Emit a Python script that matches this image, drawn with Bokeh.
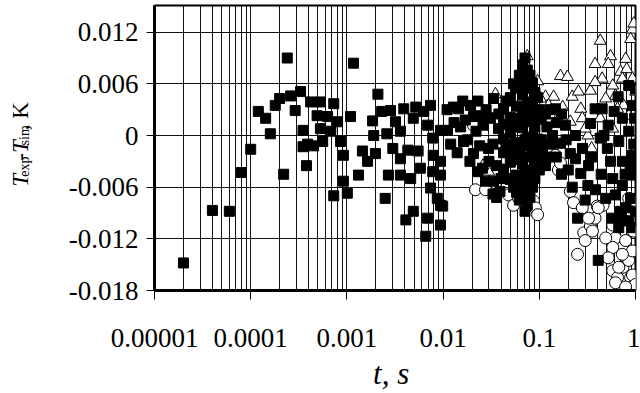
from math import pi
from bokeh.plotting import figure
from bokeh.layouts import row
from bokeh.models import FixedTicker, Range1d
from bokeh.embed import file_html
from bokeh.resources import INLINE

# ---------------- data ----------------
sq_t = [2.0e-5, 4.0e-5, 6.0e-5, 8.0e-5, 1.0e-4, 1.2e-4, 1.43e-4, 1.6e-4, 1.8e-4, 2.0e-4,
        2.2e-4, 2.4e-4, 2.6e-4, 2.9e-4, 3.3e-4, 3.5e-4, 3.5e-4, 3.8e-4, 4.2e-4, 4.5e-4,
        5.3e-4, 7.3e-4, 4.9e-4, 6.3e-4, 8.0e-4, 1.09e-3, 5.3e-4, 6.8e-4, 3.9e-4, 5.6e-4,
        8.6e-4, 9.2e-4, 9.2e-4, 1.01e-3, 7.3e-4, 1.32e-3, 2.1e-3, 2.3e-3, 1.85e-3, 3.2e-3,
        1.9e-3, 2.6e-3, 3.6e-3, 1.45e-3, 1.98e-3, 1.64e-3, 3.0e-3, 4.3e-3, 3.6e-3, 2.7e-3,
        3.6e-3, 4.6e-3, 2.5e-3, 3.9e-3, 5.2e-3, 6.3e-3, 4.9e-3, 6.9e-3, 9.4e-3, 7.8e-3,
        5.5e-3, 7.9e-3, 9.4e-3, 5.8e-3, 7.8e-3, 9.4e-3, 7.4e-3, 8.7e-3, 9.4e-3, 4.9e-3,
        4.1e-3, 6.9e-3, 9.4e-3, 6.6e-3, 1.28e-2, 1.93e-2, 2.07e-2, 1.52e-2, 1.63e-2, 2.07e-2,
        2.28e-2, 1.11e-2, 1.17e-3, 9.9e-3, 1.45e-2, 2.45e-2, 2.57e-2, 2.76e-2, 3.34e-2, 3.34e-2,
        2.97e-2, 3.77e-2, 7.4e-3, 2.84e-3,
        0.011, 0.012, 0.013, 0.014, 0.016, 0.017, 0.018, 0.019, 0.022, 0.023,
        0.024, 0.026, 0.028, 0.030, 0.031, 0.033, 0.036, 0.038, 0.040, 0.039,
        0.036, 0.033,
        0.0425, 0.0425, 0.0425, 0.0425, 0.0425,
        0.045, 0.045, 0.045,
        0.050, 0.050, 0.050, 0.050, 0.050, 0.050,
        0.054, 0.054, 0.054, 0.054,
        0.058, 0.058, 0.058, 0.058, 0.058, 0.058, 0.058,
        0.062, 0.062, 0.062, 0.062, 0.062,
        0.067, 0.067, 0.067, 0.067, 0.067, 0.067, 0.067, 0.067, 0.067,
        0.071, 0.071, 0.071, 0.071, 0.071, 0.071, 0.071,
        0.075, 0.075, 0.075, 0.075, 0.075, 0.075, 0.075, 0.075, 0.075,
        0.080, 0.080, 0.080, 0.080, 0.080,
        0.085, 0.085, 0.085, 0.085, 0.085, 0.085, 0.085,
        0.090, 0.090, 0.090, 0.090,
        0.096, 0.096, 0.096, 0.096,
        0.10, 0.10, 0.10,
        0.105, 0.105, 0.12, 0.12, 0.13, 0.13, 0.15, 0.15, 0.17, 0.17, 0.19, 0.20,
        0.116, 0.147, 0.187, 0.137, 0.108, 0.116, 0.166, 0.238, 0.281, 0.238,
        0.325, 0.32, 0.384, 0.25, 0.41, 0.577, 0.73, 0.85, 0.62, 0.73,
        0.93, 0.73, 0.93, 0.67, 0.85, 0.73, 0.93, 0.52, 0.51, 0.85,
        1.0, 0.45, 0.38, 0.34, 0.43, 0.58, 0.89, 1.0, 0.79, 0.67,
        0.93, 0.49, 0.27, 0.21, 0.60, 0.96, 0.78, 0.55, 0.66, 0.98,
        0.88, 0.70, 0.22, 0.30, 0.35, 0.44, 0.47]
sq_T = [-0.0148, -0.0087, -0.0088, -0.0043, -0.0016, 0.0028, 0.0020, 0.0002, 0.0035, 0.0043,
        -0.0045, 0.0090, 0.0046, 0.0029, 0.0051, 0.0006, -0.0013, -0.0035, 0.0039, -0.0012,
        0.0039, 0.0037, 0.0023, 0.0022, 0.0016, 0.0022, 0.0008, 0.0005, -0.0010, -0.0007,
        -0.0007, -0.0023, -0.0053, -0.0067, -0.0070, -0.0046, 0.0048, 0.0028, 0.0017, 0.0016,
        0.0000, 0.0002, 0.0005, -0.0018, -0.0021, -0.0030, -0.0015, -0.0017, -0.0027, -0.0046,
        -0.0046, -0.0050, -0.0073, 0.0031, 0.0033, 0.0028, 0.0020, 0.0012, 0.0006, -0.0003,
        -0.0018, -0.0023, -0.0030, -0.0038, -0.0042, -0.0046, -0.0061, -0.0073, -0.0081, -0.0088,
        -0.0098, -0.0096, -0.0104, -0.0117, 0.0033, 0.0035, 0.0022, 0.0010, -0.0007, -0.0021,
        -0.0042, 0.0006, 0.0084, -0.0082, 0.0031, 0.0023, -0.0038, -0.0053, -0.0053, 0.0043,
        -0.0015, 0.0008, 0.0035, 0.0029,
        0.0030, -0.0010, 0.0015, -0.0020, 0.0040, 0.0018, -0.0005, -0.0030, 0.0005, 0.0040,
        -0.0012, 0.0012, 0.0030, -0.0030, 0.0020, -0.0010, -0.0035, 0.0025, -0.0050, -0.0065,
        -0.0072, -0.0068,
        0.0031, 0.0013, -0.0004, -0.0020, -0.0039,
        0.0040, -0.0010, -0.0050,
        0.0044, 0.0021, 0.0003, -0.0016, -0.0031, -0.0051,
        0.0060, 0.0010, -0.0022, -0.0060,
        0.0055, 0.0034, 0.0013, -0.0008, -0.0028, -0.0046, -0.0066,
        0.0070, 0.0020, -0.0018, -0.0055, -0.0075,
        0.0082, 0.0066, 0.0047, 0.0030, 0.0009, -0.0012, -0.0033, -0.0051, -0.0069,
        0.0090, 0.0055, 0.0022, -0.0005, -0.0040, -0.0075, -0.0088,
        0.0076, 0.0058, 0.0038, 0.0016, -0.0002, -0.0025, -0.0043, -0.0062, -0.0081,
        0.0070, 0.0028, -0.0012, -0.0052, -0.0072,
        0.0061, 0.0039, 0.0021, -0.0002, -0.0020, -0.0041, -0.0060,
        0.0050, 0.0010, -0.0030, -0.0050,
        0.0044, 0.0019, -0.0004, -0.0026,
        0.0030, -0.0010, -0.0040,
        0.0020, -0.0005, 0.0010, -0.0025, 0.0030, -0.0010, 0.0015, -0.0025, 0.0025, -0.0045, -0.0005, -0.0040,
        0.0025, 0.0031, 0.0012, 0.0000, -0.0015, -0.0035, -0.0009, 0.0000, -0.0015, -0.0027,
        -0.0035, -0.0058, -0.0063, -0.0096, -0.0145, -0.0096, -0.0099, -0.0099, -0.0069, -0.0058,
        -0.0046, -0.0030, -0.0023, -0.0007, 0.0005, 0.0020, 0.0035, 0.0012, -0.0015, 0.0058,
        0.0054, 0.0031, 0.0031, 0.0014, -0.0003, -0.0050, -0.0073, -0.0088, -0.0084, -0.0107,
        -0.0107, -0.0073, -0.0044, -0.0021, 0.0028, -0.0010, -0.0045, -0.0030, 0.0045, 0.0020,
        -0.0035, -0.0088, -0.0060, -0.0075, -0.0025, -0.0045, 0.0000]

tri_t = [0.035, 0.0446, 0.050, 0.0566, 0.075, 0.096, 0.166, 0.196, 0.116, 0.141,
         0.125, 0.155, 0.22, 0.255, 0.27, 0.28, 0.21, 0.34, 0.43, 0.38,
         0.55, 0.52, 0.79, 0.70, 0.81, 0.45, 0.38, 0.58, 0.73, 0.93,
         0.93, 0.89, 1.0, 0.62, 0.75, 0.85, 0.0297, 0.026, 0.35, 0.32,
         0.49, 0.65, 0.96, 0.103, 0.43, 0.58, 0.30, 0.175]
tri_T = [0.0048, 0.0031, 0.0029, 0.0029, 0.0092, 0.0063, 0.0069, 0.0068, 0.0045, 0.0045,
         0.0035, 0.0020, 0.0045, 0.0051, 0.0031, 0.0020, 0.0016, 0.0052, 0.0110, 0.0083,
         0.0092, 0.0083, 0.0089, 0.0074, 0.0077, 0.0066, 0.0062, 0.0058, 0.0066, 0.0066,
         0.0123, 0.0112, 0.0051, 0.0046, 0.0035, 0.0023, -0.0042, -0.0035, -0.0015, 0.0000,
         0.0043, 0.0031, 0.0130, 0.0043, 0.0020, 0.0008, 0.0008, 0.0033]

cir_t = [0.0207, 0.0217, 0.0276, 0.034, 0.048, 0.054, 0.061, 0.087, 0.091, 0.096,
         0.125, 0.137, 0.158, 0.147, 0.21, 0.227, 0.25, 0.29, 0.34, 0.38,
         0.40, 0.46, 0.30, 0.58, 0.65, 0.74, 0.89, 0.95, 0.28, 0.325,
         0.357, 0.41, 0.58, 0.62, 0.73, 0.85, 0.67, 0.93, 1.0, 0.79,
         0.93, 0.58, 0.73, 0.95, 1.0, 0.49, 0.52, 0.62, 0.79, 0.166,
         0.035, 0.85, 0.70]
cir_T = [0.0012, -0.0063, -0.0063, 0.0033, -0.0069, -0.0081, -0.0073, -0.0076, -0.0084, -0.0092,
         -0.0024, -0.0018, -0.0040, -0.0023, -0.0065, -0.0078, -0.0138, -0.0113, -0.0105, -0.0096,
         -0.0082, -0.0081, -0.0122, -0.0157, -0.0165, -0.0153, -0.0165, -0.0174, -0.0084, -0.0096,
         -0.0111, -0.0084, -0.0104, -0.0119, -0.0130, -0.0145, -0.0153, -0.0162, -0.0173, -0.0122,
         -0.0134, -0.0130, -0.0138, -0.0111, -0.0076, -0.0119, -0.0142, -0.0171, -0.0176, -0.0032,
         -0.0055, -0.0073, -0.0090]

x_ticks = [1e-5, 1e-4, 1e-3, 1e-2, 1e-1, 1.0]
x_tick_labels = ["0.00001", "0.0001", "0.001", "0.01", "0.1", "1"]
y_ticks = [-0.018, -0.012, -0.006, 0.0, 0.006, 0.012]
y_tick_labels = ["-0.018", "-0.012", "-0.006", "0", "0.006", "0.012"]

# y-axis title pieces: T_exp - T_sim, K
ylab_main = ["T", "-T", ", K"]
ylab_main_style = ["italic", "italic", "normal"]
ylab_sub = ["exp", "sim"]

# ---------------- layout constants ----------------
SERIF = "Liberation Serif"
W, H = 640, 393
LW = 40                      # narrow strip holding the rotated y title
BL, BR, BT, BB = 154 - LW, 5, 5, 103

# ---------------- left strip with the rotated y title ----------------
lp = figure(width=LW, height=H, x_range=Range1d(0, LW), y_range=Range1d(H, 0),
            output_backend="svg", toolbar_location=None,
            min_border_left=0, min_border_right=0, min_border_top=0, min_border_bottom=0)
lp.axis.visible = False
lp.grid.visible = False
lp.outline_line_color = None
lp.background_fill_color = "white"
lp.border_fill_color = "white"

main_pos = [(20, 250), (20, 214), (20, 172)]   # baseline x, start y (pixels)
sub_pos = [(24, 236), (24, 193)]
for txt, st, (bx, by) in zip(ylab_main, ylab_main_style, main_pos):
    lp.text(x=[bx], y=[by], text=[txt], angle=pi / 2, text_font=SERIF,
            text_font_size="23px", text_font_style=st, text_color="black",
            text_align="left", text_baseline="alphabetic")
for txt, (bx, by) in zip(ylab_sub, sub_pos):
    lp.text(x=[bx], y=[by], text=[txt], angle=pi / 2, text_font=SERIF,
            text_font_size="14px", text_font_style="normal", text_color="black",
            text_align="left", text_baseline="alphabetic")

# ---------------- main plot ----------------
p = figure(width=W - LW, height=H, x_axis_type="log",
           x_range=Range1d(1e-5, 1.0), y_range=Range1d(-0.018, 0.0151),
           output_backend="svg", toolbar_location=None,
           min_border_left=BL, min_border_right=BR, min_border_top=BT, min_border_bottom=BB)
p.background_fill_color = "white"
p.border_fill_color = "white"
p.outline_line_color = "black"
p.outline_line_width = 2

minor = [k * d for d in x_ticks[:-1] for k in range(2, 10)]
xt = FixedTicker(ticks=x_ticks, minor_ticks=minor)
yt = FixedTicker(ticks=y_ticks, minor_ticks=[])
p.xaxis.ticker = xt
p.yaxis.ticker = yt
p.xgrid.ticker = xt
p.ygrid.ticker = yt

p.xaxis.major_label_overrides = dict(zip(x_ticks, x_tick_labels))
p.yaxis.major_label_overrides = dict(zip(y_ticks, y_tick_labels))

p.xgrid.grid_line_color = "#111111"
p.xgrid.grid_line_width = 1
p.xgrid.minor_grid_line_color = "#111111"
p.xgrid.minor_grid_line_width = 1
p.ygrid.grid_line_color = "#111111"
p.ygrid.grid_line_width = 1

for ax in (p.xaxis, p.yaxis):
    ax.axis_line_color = "black"
    ax.axis_line_width = 3
    ax.major_tick_line_color = "black"
    ax.major_tick_line_width = 1
    ax.major_tick_in = 0
    ax.minor_tick_line_color = None
    ax.major_label_text_font = SERIF
    ax.major_label_text_font_size = "27px"
    ax.major_label_text_color = "black"

p.xaxis.major_tick_out = 9
p.yaxis.major_tick_out = 8
p.xaxis.major_label_standoff = 29
p.yaxis.major_label_standoff = 8

p.xaxis.axis_label = "t,  s"
p.xaxis.axis_label_text_font = SERIF
p.xaxis.axis_label_text_font_style = "italic"
p.xaxis.axis_label_text_font_size = "31px"
p.xaxis.axis_label_text_color = "black"
p.xaxis.axis_label_standoff = 6

p.scatter(tri_t, tri_T, marker="triangle", size=12, fill_color="white",
          line_color="black", line_width=1)
p.scatter(cir_t, cir_T, marker="circle", size=12, fill_color="white",
          line_color="black", line_width=1)
p.scatter(sq_t, sq_T, marker="square", size=10, fill_color="black",
          line_color="black", line_width=1)

layout = row(lp, p, spacing=0)
open("out.html", "w").write(file_html(layout, INLINE))
